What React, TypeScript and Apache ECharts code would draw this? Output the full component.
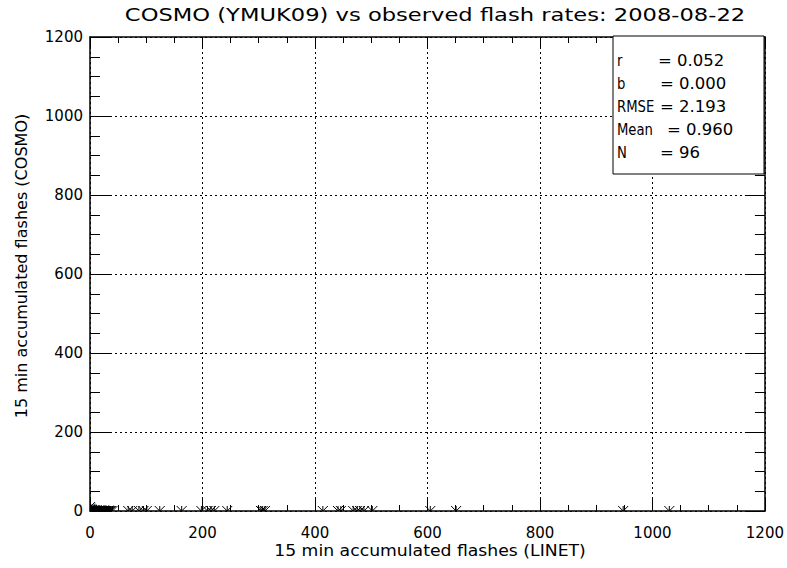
import React, { useEffect, useRef } from "react";
import * as echarts from "echarts";

const TITLE = "COSMO (YMUK09) vs observed flash rates: 2008-08-22";
const X_NAME = "15 min accumulated flashes (LINET)";
const Y_NAME = "15 min accumulated flashes (COSMO)";

// observed (LINET) 15-min flash counts
const linetFlashes = [
  0, 0, 0, 0, 0, 0, 0, 0, 0, 0, 0, 0, 0, 0, 0, 0, 0, 0, 0, 0,
  0, 0, 0, 0, 0, 0, 0, 0, 0, 0, 0, 0, 0, 0, 0, 0, 0, 0, 0, 0,
  1, 2, 3, 4, 5, 6, 7, 9, 11, 13, 15, 17, 19, 21, 23, 25, 27, 29, 31, 34,
  37, 40, 68, 75, 87, 95, 101, 124, 163, 198, 209, 215, 221, 244, 304, 307,
  311, 414, 441, 446, 468, 475, 480, 487, 502, 605, 651, 948, 1030, 2, 8, 14,
  20, 26, 33, 36,
];
// modelled (COSMO) 15-min flash counts
const cosmoFlashes = [
  0, 0, 0, 0, 0, 0, 0, 0, 0, 0, 0, 0, 0, 0, 0, 0, 0, 0, 0, 0,
  0, 0, 0, 0, 0, 0, 0, 0, 0, 0, 0, 0, 0, 0, 0, 0, 0, 0, 10, 6,
  3, 1, 2, 0, 1, 0, 2, 0, 1, 0, 0, 1, 0, 0, 0, 1, 0, 0, 0, 0,
  0, 0, 0, 0, 0, 0, 0, 0, 0, 0, 0, 0, 0, 0, 0, 0,
  0, 0, 0, 0, 0, 0, 0, 0, 0, 0, 0, 0, 0, 4, 1, 0,
  2, 0, 1, 0,
];

const statLabels = ["r", "b", "RMSE", "Mean", "N"];
const statValues = ["= 0.052", "= 0.000", "= 2.193", "= 0.960", "= 96"];
const statValueX = [658, 660, 660, 667, 660];

const AX_MIN = 0;
const AX_MAX = 1200;
const AX_INTERVAL = 200;

const FONT = "'DejaVu Sans', 'Liberation Sans', sans-serif";

export default function App() {
  const ref = useRef<HTMLDivElement>(null);

  useEffect(() => {
    if (!ref.current) return;
    const chart = echarts.init(ref.current, undefined, { renderer: "svg" });

    const points = linetFlashes.map((x, i) => [x, cosmoFlashes[i]]);

    const gridLine = {
      show: true,
      lineStyle: { color: "#000", width: 1, type: [2, 3] as any },
    };

    const baseAxis = (minorLen: number) => ({
      type: "value" as const,
      min: AX_MIN,
      max: AX_MAX,
      interval: AX_INTERVAL,
      axisLine: { show: true, onZero: false, lineStyle: { color: "#000", width: 1.5 } },
      axisTick: { show: true, inside: true, length: minorLen * 2, lineStyle: { color: "#000" } },
      minorTick: { show: true, splitNumber: 4, length: minorLen, lineStyle: { color: "#000" } },
      minorSplitLine: { show: false },
    });

    const statGraphics: any[] = [
      {
        type: "rect",
        shape: { x: 613, y: 36, width: 151, height: 138 },
        style: { fill: "#fff", stroke: "#000", lineWidth: 1 },
        z: 100,
      },
    ];
    statLabels.forEach((lab, i) => {
      const y = 61 + i * 23;
      statGraphics.push({
        type: "text",
        x: 617,
        y,
        z: 101,
        scaleX: 0.88,
        style: {
          text: lab,
          fontFamily: FONT,
          fontSize: 15,
          fill: "#000",
          textVerticalAlign: "middle",
          verticalAlign: "middle",
        },
      });
      statGraphics.push({
        type: "text",
        x: statValueX[i],
        y,
        z: 101,
        scaleX: 1.1,
        style: {
          text: statValues[i],
          fontFamily: FONT,
          fontSize: 15,
          fill: "#000",
          textVerticalAlign: "middle",
          verticalAlign: "middle",
        },
      });
    });

    const textStyle = (text: string, size: number) => ({
      text,
      fontFamily: FONT,
      fontSize: size,
      fill: "#000",
      textAlign: "center",
      align: "center",
      textVerticalAlign: "middle",
      verticalAlign: "middle",
    });

    chart.setOption({
      animation: false,
      backgroundColor: "#fff",
      grid: { left: 90, right: 16, top: 37, bottom: 57, containLabel: false },
      xAxis: [
        {
          ...baseAxis(6),
          position: "bottom",
          axisLabel: {
            show: true,
            margin: 14,
            fontFamily: FONT,
            fontSize: 15,
            color: "#000",
            formatter: (v: number) => String(v),
          },
          splitLine: gridLine,
        },
        {
          ...baseAxis(6),
          position: "top",
          axisLabel: { show: false },
          splitLine: { show: false },
        },
      ],
      yAxis: [
        {
          ...baseAxis(10),
          position: "left",
          axisLabel: {
            show: true,
            margin: 7,
            fontFamily: FONT,
            fontSize: 15,
            color: "#000",
            formatter: (v: number) => String(v),
          },
          splitLine: gridLine,
        },
        {
          ...baseAxis(10),
          position: "right",
          axisLabel: { show: false },
          splitLine: { show: false },
        },
      ],
      series: [
        {
          type: "custom",
          xAxisIndex: 0,
          yAxisIndex: 0,
          data: points,
          encode: { x: 0, y: 1 },
          clip: true,
          renderItem: (_params: any, api: any) => {
            const p = api.coord([api.value(0), api.value(1)]);
            const r = 5;
            const st = { stroke: "#000", lineWidth: 1 };
            return {
              type: "group",
              children: [
                { type: "line", shape: { x1: p[0], y1: p[1] - r, x2: p[0], y2: p[1] + r }, style: st },
                { type: "line", shape: { x1: p[0] - r, y1: p[1] - r, x2: p[0] + r, y2: p[1] + r }, style: st },
                { type: "line", shape: { x1: p[0] - r, y1: p[1] + r, x2: p[0] + r, y2: p[1] - r }, style: st },
              ],
            };
          },
        },
      ],
      graphic: [
        {
          type: "text",
          x: 435,
          y: 15,
          scaleX: 1.33,
          style: textStyle(TITLE, 17),
        },
        {
          type: "text",
          x: 430,
          y: 551,
          scaleX: 1.15,
          style: textStyle(X_NAME, 15),
        },
        {
          type: "text",
          x: 22,
          y: 266,
          rotation: Math.PI / 2,
          scaleX: 1.07,
          style: textStyle(Y_NAME, 15),
        },
        ...statGraphics,
      ],
    });

    return () => chart.dispose();
  }, []);

  return (
    <div
      ref={ref}
      style={{ position: "fixed", left: 0, top: 0, width: 787, height: 568, background: "#fff" }}
    />
  );
}
